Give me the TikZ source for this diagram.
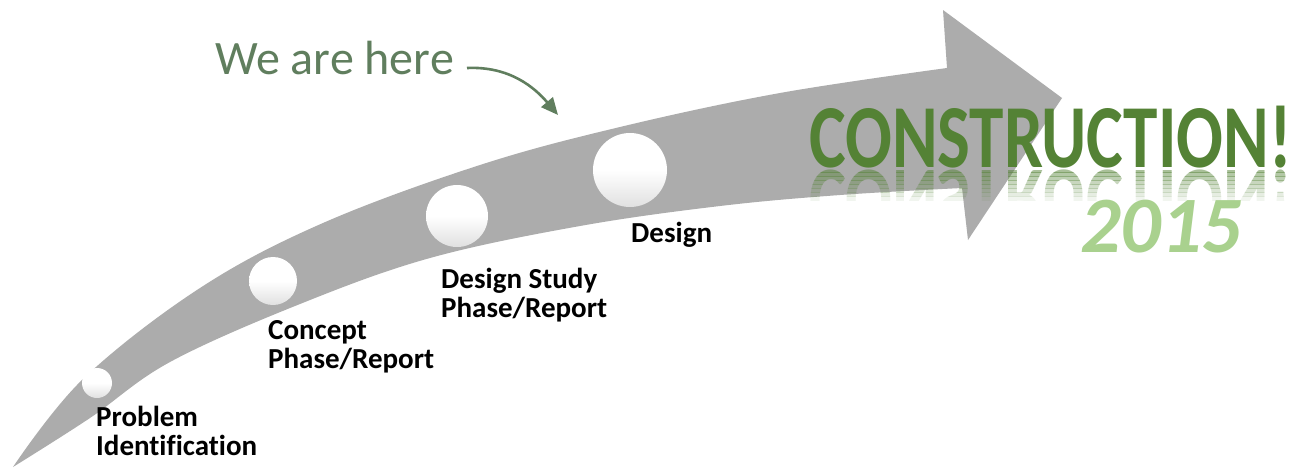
\documentclass[tikz,border=0pt]{standalone}
\usepackage{fontspec}
\setmainfont[Ligatures=NoCommon]{Carlito}
\newfontfamily\condfont[FakeStretch=0.77]{Carlito}
\usetikzlibrary{arrows.meta}
\definecolor{arrowgray}{RGB}{172,172,172}
\definecolor{heregreen}{RGB}{96,126,94}
\definecolor{darkgreen}{RGB}{84,130,53}
\definecolor{lightgreen}{RGB}{169,209,142}
\begin{document}
\begin{tikzpicture}[x=1pt,y=-1pt,
  ball/.style={circle, inner sep=0pt, top color=white, bottom color=black!12, middle color=white},
  stagelabel/.style={anchor=base west, align=left, inner sep=0pt, text=black,
    font=\fontsize{29}{29}\selectfont\bfseries},
  constrtext/.style={anchor=base west, inner sep=0pt, text=darkgreen,
    font=\fontsize{90}{90}\selectfont\condfont\bfseries},
  heretext/.style={anchor=base west, inner sep=0pt, text=heregreen,
    font=\fontsize{48}{48}\selectfont},
  yeartext/.style={anchor=base west, inner sep=0pt, text=lightgreen,
    font=\fontsize{80}{80}\selectfont\bfseries\itshape},
  pointer/.style={draw=heregreen, line width=2.6pt, -{Triangle[length=17pt,width=15pt]}}
]
\fill[white] (0,0) rectangle (1300,475);
\useasboundingbox (0,0) rectangle (1300,475);

% big curved arrow
\fill[arrowgray]
  plot[smooth, tension=0.6] coordinates {(13,467) (83,379) (200,288) (323,223) (480,165) (620,127) (780,93) (947,68)}
  -- (943,10) -- (1062,98) -- (968,240)
  -- plot[smooth, tension=0.6] coordinates {(962,188) (840,195) (720,206) (580,226) (430,258) (300,304) (170,362) (90,418) (13,467)}
  -- cycle;

% milestone balls
\node[ball, minimum size=30pt] (c1) at (97,383) {};
\node[ball, minimum size=48pt] (c2) at (273,281) {};
\node[ball, minimum size=62pt] (c3) at (457,216) {};
\node[ball, minimum size=74pt] (c4) at (630,170) {};

% stage labels
\node[stagelabel] (l1) at (96,455) {Problem\\Identification};
\node[stagelabel] (l2) at (268,368) {Concept\\Phase/Report};
\node[stagelabel] (l3) at (441,317) {Design Study\\Phase/Report};
\node[stagelabel] (l4) at (631,242) {Design};

% we are here
\node[heretext] (here) at (215,74) {We are here};
\coordinate (target) at (558,115);
\draw[pointer] ([xshift=13pt,yshift=6pt]here.base east) .. controls (510,66) and (535,88) .. (target);

% construction + reflection
\foreach \k in {0,...,7} {
  \begin{scope}
    \clip (790,{168+4*\k}) rectangle (1300,{172+4*\k});
    \begin{scope}[shift={(809,170)}, yscale=-1]
      \node[constrtext, transform shape, text opacity={0.5-0.06*\k}] (refl\k) at (0,0) {CONSTRUCTION!};
    \end{scope}
  \end{scope}
}
\node[constrtext] (cons) at (809,167) {CONSTRUCTION!};
\node[yeartext] (year) at (1080,252) {2015};
\end{tikzpicture}
\end{document}
